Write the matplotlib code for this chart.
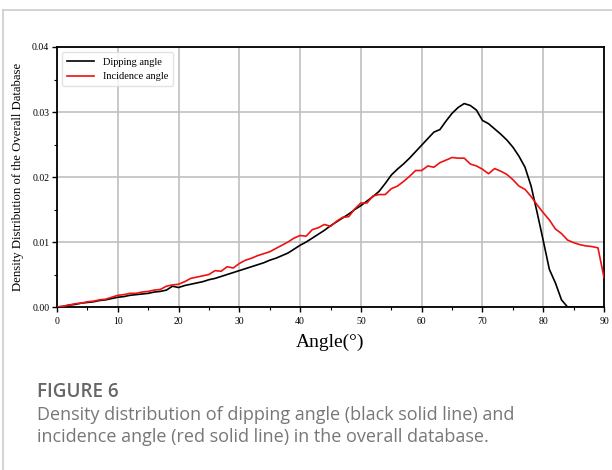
import matplotlib.pyplot as plt
from matplotlib.lines import Line2D
from matplotlib.ticker import MultipleLocator

angles = list(range(0, 91))

dipping = [
    0.0000, 0.0001, 0.0003, 0.0004, 0.0006, 0.0007, 0.0008, 0.0010, 0.0011, 0.0013,
    0.0015, 0.0016, 0.0018, 0.0019, 0.0020, 0.0021, 0.0023, 0.0024, 0.0026, 0.0032,
    0.0030, 0.0033, 0.0035, 0.0037, 0.0039, 0.0042, 0.0044, 0.0047, 0.0050, 0.0053,
    0.0056, 0.0059, 0.0062, 0.0065, 0.0068, 0.0072, 0.0075, 0.0079, 0.0083, 0.0089,
    0.0095, 0.0100, 0.0106, 0.0112, 0.0118, 0.0125, 0.0131, 0.0137, 0.0143, 0.0150,
    0.0156, 0.0163, 0.0170, 0.0178, 0.0190, 0.0203, 0.0212, 0.0220, 0.0229, 0.0239,
    0.0249, 0.0259, 0.0269, 0.0273, 0.0286, 0.0298, 0.0307, 0.0313, 0.0310, 0.0303,
    0.0287, 0.0282, 0.0274, 0.0266, 0.0257, 0.0246, 0.0232, 0.0215, 0.0186, 0.0145,
    0.0102, 0.0058, 0.0037, 0.0011, 0.0000, 0.0000, 0.0000, 0.0000, 0.0000, 0.0000,
    0.0000,
]

incidence = [
    0.0000, 0.0001, 0.0003, 0.0005, 0.0006, 0.0008, 0.0009, 0.0011, 0.0012, 0.0015,
    0.0018, 0.0019, 0.0021, 0.0021, 0.0023, 0.0024, 0.0026, 0.0027, 0.0032, 0.0034,
    0.0035, 0.0039, 0.0044, 0.0046, 0.0048, 0.0050, 0.0056, 0.0055, 0.0062, 0.0060,
    0.0067, 0.0072, 0.0075, 0.0079, 0.0082, 0.0085, 0.0090, 0.0095, 0.0100, 0.0106,
    0.0110, 0.0109, 0.0119, 0.0122, 0.0127, 0.0124, 0.0132, 0.0138, 0.0139, 0.0151,
    0.0160, 0.0160, 0.0171, 0.0173, 0.0173, 0.0182, 0.0186, 0.0193, 0.0201, 0.0210,
    0.0210, 0.0217, 0.0215, 0.0222, 0.0226, 0.0230, 0.0229, 0.0229, 0.0220, 0.0217,
    0.0212, 0.0205, 0.0213, 0.0209, 0.0204, 0.0196, 0.0186, 0.0181, 0.0170, 0.0157,
    0.0145, 0.0134, 0.0120, 0.0113, 0.0103, 0.0099, 0.0096, 0.0094, 0.0093, 0.0091,
    0.0045,
]

series_labels = ["Dipping angle", "Incidence angle"]
caption_title = "FIGURE 6"
caption_lines = [
    "Density distribution of dipping angle (black solid line) and",
    "incidence angle (red solid line) in the overall database.",
]

serif = ["Liberation Serif", "DejaVu Serif"]

fig = plt.figure(figsize=(6.12, 4.70), dpi=100)
ax = fig.add_axes([0.0931, 0.3468, 0.8939, 0.5532])

ax.plot(angles, dipping, color="black", lw=1.2, label=series_labels[0], zorder=3)
ax.plot(angles, incidence, color="#ee1111", lw=1.2, label=series_labels[1], zorder=3)

ax.set_xlim(0, 90)
ax.set_ylim(0, 0.04)
ax.xaxis.set_major_locator(MultipleLocator(10))
ax.xaxis.set_minor_locator(MultipleLocator(5))
ax.yaxis.set_major_locator(MultipleLocator(0.01))
ax.yaxis.set_minor_locator(MultipleLocator(0.005))
ax.set_yticklabels([f"{v:.2f}" for v in ax.get_yticks()])
ax.grid(True, which="major", color="#c0c0c0", lw=1.2, zorder=0)

ax.tick_params(which="major", direction="out", length=3.5, width=1.0, labelsize=7, pad=2)
ax.tick_params(axis="x", which="major", pad=4)
ax.tick_params(which="minor", direction="out", length=2, width=0.8)
for lab in ax.get_xticklabels() + ax.get_yticklabels():
    lab.set_fontfamily(serif)
for sp in ax.spines.values():
    sp.set_linewidth(1.3)

ax.set_xlabel("Angle(°)", fontsize=14, family=serif, labelpad=5)
ax.set_ylabel("Density Distribution of the Overall Database", fontsize=9.2, family=serif, labelpad=6)

leg = ax.legend(loc="upper left", prop={"family": serif, "size": 7.5}, frameon=True,
                borderpad=0.5, handlelength=2.6, labelspacing=0.5)
leg.get_frame().set_edgecolor("#dddddd")

# outer frame of the figure panel
fig.add_artist(Line2D([3 / 612, 3 / 612], [0, 1 - 10 / 470], color="#cccccc", lw=1.2))
fig.add_artist(Line2D([3 / 612, 1], [1 - 10 / 470, 1 - 10 / 470], color="#cccccc", lw=1.2))

cap_font = ["Open Sans", "DejaVu Sans"]
fig.text(37 / 612, 1 - 397 / 470, caption_title, fontsize=13.6, family=cap_font,
         fontweight="semibold", color="#666666")
for i, line in enumerate(caption_lines):
    fig.text(37 / 612, 1 - (420 + 22 * i) / 470, line, fontsize=13, family=cap_font,
             color="#777777")

fig.savefig("out.png", dpi=100)
